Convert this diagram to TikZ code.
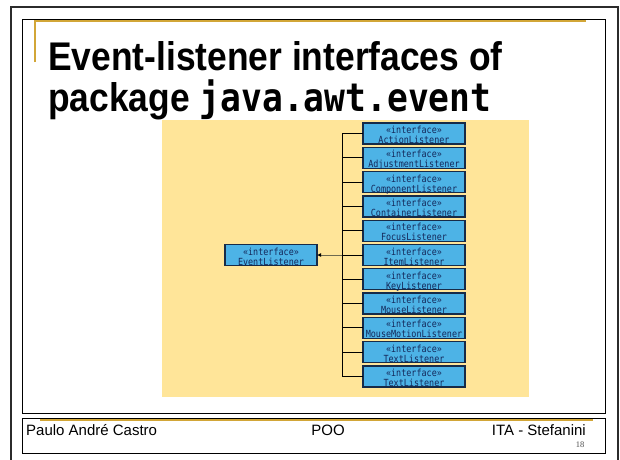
\documentclass[tikz,border=0pt]{standalone}
\usepackage{fontspec}
\setmainfont{Liberation Sans}
\newfontfamily\boxfont[FakeStretch=0.86]{DejaVu Sans Mono}
\newfontfamily\titlefont[FakeStretch=0.885]{Liberation Sans}
\newfontfamily\titlemono[FakeStretch=0.885]{DejaVu Sans Mono}
\newfontfamily\numfont{Liberation Serif}
\usetikzlibrary{arrows.meta,positioning}
\definecolor{slGold}{HTML}{D2A637}
\definecolor{slSand}{HTML}{FFE599}
\definecolor{slSky}{HTML}{4DB3E6}
\definecolor{slNavy}{HTML}{172B48}
\definecolor{slInk}{HTML}{14285A}
\definecolor{slFrame}{HTML}{2B2B2B}
\definecolor{slOlive}{HTML}{6E6A50}

\begin{document}
\begin{tikzpicture}[x=1pt,y=-1pt,
  node distance=3.3pt,
  iface/.style={draw=slNavy,fill=slSky,line width=1.3pt,inner sep=0pt,outer sep=0pt,
    text width=102pt,align=center,text height=10.5pt,text depth=10.5pt,
    text=slInk,font=\boxfont\fontsize{9.8}{10}\selectfont},
  root/.style={iface,text width=92pt},
  link/.style={draw=black,line width=0.9pt},
  arrow/.style={-{Latex[length=4pt,width=4pt,color=black]},draw=slOlive,line width=1pt},
  goldline/.style={draw=slGold,line width=1.4pt},
  heading/.style={anchor=base west,inner sep=0pt,font=\titlefont\bfseries\fontsize{40}{44}\selectfont},
  caption/.style={anchor=base west,inner sep=0pt,font=\fontsize{15}{18}\selectfont}
]
\useasboundingbox (0,0) rectangle (620,459);
% slide frames
\draw[slFrame,line width=2pt] (11,7) rectangle (618,480);
\draw[black,line width=0.8pt] (22,19) rectangle (605,413);
\draw[black,line width=0.8pt] (22,418) rectangle (605,453);
\draw[goldline] (35,62) -- (35,21) -- (586,21);
\draw[goldline] (40,419.8) -- (593,419.8);
% title
\node[heading] (title1) at (48,70) {Event-listener interfaces of};
\node[heading] (title2) at (48,111) {package {\titlemono\fontsize{39.1}{44}\selectfont java.awt.event}};
% diagram
\fill[slSand] (162,120) rectangle (529,397);
\node[iface] (action) at (414,133.5) {«interface»\\ActionListener};
\node[iface,below=of action] (adjust) {«interface»\\AdjustmentListener};
\node[iface,below=of adjust] (component) {«interface»\\ComponentListener};
\node[iface,below=of component] (container) {«interface»\\ContainerListener};
\node[iface,below=of container] (focus) {«interface»\\FocusListener};
\node[iface,below=of focus] (item) {«interface»\\ItemListener};
\node[iface,below=of item] (key) {«interface»\\KeyListener};
\node[iface,below=of key] (mouse) {«interface»\\MouseListener};
\node[iface,below=of mouse] (motion) {«interface»\\MouseMotionListener};
\node[iface,below=of motion] (textA) {«interface»\\TextListener};
\node[iface,below=of textA] (textB) {«interface»\\TextListener};
\node[root] (listener) at (271,255) {«interface»\\EventListener};
\coordinate (hub) at (342,0);
\draw[link] (action.west -| hub) -- (textB.west -| hub);
\draw[link] (action.west -| hub) -- (action.west);
\draw[link] (adjust.west -| hub) -- (adjust.west);
\draw[link] (component.west -| hub) -- (component.west);
\draw[link] (container.west -| hub) -- (container.west);
\draw[link] (focus.west -| hub) -- (focus.west);
\draw[link] (item.west -| hub) -- (item.west);
\draw[link] (key.west -| hub) -- (key.west);
\draw[link] (mouse.west -| hub) -- (mouse.west);
\draw[link] (motion.west -| hub) -- (motion.west);
\draw[link] (textA.west -| hub) -- (textA.west);
\draw[link] (textB.west -| hub) -- (textB.west);
\draw[arrow] (item.west -| hub) -- (listener.east);
% footer
\node[caption] (author) at (26,435) {Paulo André Castro};
\node[caption,anchor=base] (course) at (328,435) {POO};
\node[caption,anchor=base east] (school) at (586,435) {ITA - Stefanini};
\node[anchor=base,inner sep=0pt,font=\numfont\fontsize{8.5}{9}\selectfont,text=black!70] (pagenum) at (580,447) {18};
\end{tikzpicture}
\end{document}
